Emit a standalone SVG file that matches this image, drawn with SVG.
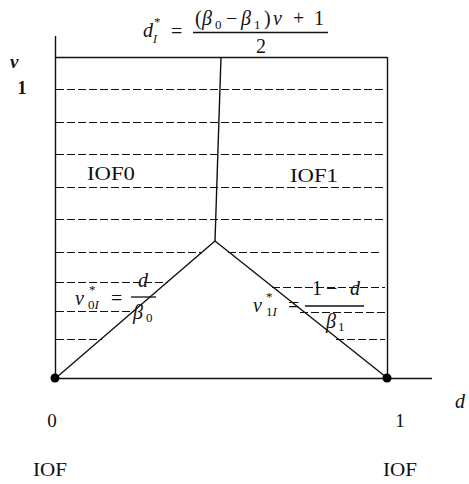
<svg xmlns="http://www.w3.org/2000/svg" width="469" height="484" viewBox="0 0 469 484">
<style>
.ln{stroke:#111;stroke-width:1.4;fill:none}
.ds{stroke:#111;stroke-width:1.2;stroke-dasharray:8 3;fill:none}
.t{font-family:"Liberation Serif","Times New Roman",serif;fill:#111}
.i{font-style:italic}
.m{font-size:20px}
.s{font-size:13px}
.lb{font-size:19px}
</style>
<rect width="469" height="484" fill="#ffffff"/>
<g id="grid">
<line class="ds" x1="56" y1="89.5" x2="385" y2="89.5"/>
<line class="ds" x1="56" y1="122.5" x2="385" y2="122.5"/>
<line class="ds" x1="56" y1="154.5" x2="385" y2="154.5"/>
<line class="ds" x1="56" y1="187.5" x2="385" y2="187.5"/>
<line class="ds" x1="56" y1="219.5" x2="385" y2="219.5"/>
<line class="ds" x1="56" y1="252.5" x2="202" y2="252.5"/>
<line class="ds" x1="228" y1="252.5" x2="382" y2="252.5"/>
<line class="ds" x1="56" y1="282.5" x2="168" y2="282.5"/>
<line class="ds" x1="272" y1="287.5" x2="385" y2="287.5"/>
<line class="ds" x1="56" y1="311.5" x2="134" y2="311.5"/>
<line class="ds" x1="300" y1="312.5" x2="385" y2="312.5"/>
<line class="ds" x1="56" y1="339.5" x2="102" y2="339.5"/>
<line class="ds" x1="336" y1="339.5" x2="385" y2="339.5"/>
</g>
<g id="axes">
<line class="ln" x1="55.5" y1="36" x2="55.5" y2="378"/>
<line class="ln" x1="55" y1="378.5" x2="432" y2="378.5"/>
<line class="ln" x1="55" y1="57.5" x2="387" y2="57.5"/>
<line class="ln" x1="387.5" y1="57" x2="387.5" y2="378"/>
</g>
<g id="connectors">
<line class="ln" x1="221" y1="57" x2="215" y2="241"/>
<line class="ln" x1="215" y1="241" x2="57" y2="377"/>
<line class="ln" x1="215" y1="241" x2="386" y2="377"/>
</g>
<g id="node-origin">
<circle cx="55" cy="378" r="4.5" fill="#000"/>
<text class="t lb" x="52" y="427" text-anchor="middle">0</text>
<text class="t lb" x="50" y="476" text-anchor="middle" textLength="34" lengthAdjust="spacingAndGlyphs">IOF</text>
</g>
<g id="node-one">
<circle cx="387" cy="378" r="4.5" fill="#000"/>
<text class="t lb" x="400" y="427" text-anchor="middle">1</text>
<text class="t lb" x="400" y="476" text-anchor="middle" textLength="34" lengthAdjust="spacingAndGlyphs">IOF</text>
</g>
<g id="labels">
<text class="t i" x="10" y="68" font-size="19" font-weight="bold">v</text>
<text class="t" x="22" y="94" font-size="18" font-weight="bold" text-anchor="middle">1</text>
<text class="t i" x="455" y="408" font-size="20">d</text>
<text class="t lb" x="87" y="180" textLength="48" lengthAdjust="spacingAndGlyphs">IOF0</text>
<text class="t lb" x="290" y="182" textLength="48" lengthAdjust="spacingAndGlyphs">IOF1</text>
</g>
<g id="formula-top">
<text class="t i m" x="143" y="37">d</text>
<text class="t s" x="154" y="26">*</text>
<text class="t i" x="153" y="43" font-size="12">I</text>
<text class="t m" x="171" y="38">=</text>
<text class="t m" x="195" y="25">(</text>
<text class="t i m" x="202" y="25">β</text>
<text class="t s" x="215" y="29">0</text>
<text class="t m" x="226" y="25">−</text>
<text class="t i m" x="241" y="25">β</text>
<text class="t s" x="254" y="29">1</text>
<text class="t m" x="264" y="25">)</text>
<text class="t i m" x="273" y="25">v</text>
<text class="t m" x="293" y="25">+</text>
<text class="t m" x="314" y="25">1</text>
<line x1="193" y1="32.5" x2="328" y2="32.5" stroke="#111" stroke-width="1.4"/>
<text class="t m" x="261" y="53" text-anchor="middle">2</text>
</g>
<g id="formula-left">
<text class="t i m" x="75" y="305">v</text>
<text class="t s" x="89" y="294">*</text>
<text class="t s" x="88" y="309">0<tspan class="i">I</tspan></text>
<text class="t m" x="111" y="305">=</text>
<text class="t i m" x="138" y="287">d</text>
<line x1="131" y1="297" x2="156" y2="297" stroke="#111" stroke-width="1.3"/>
<text class="t i m" x="133" y="319">β</text>
<text class="t s" x="146" y="322">0</text>
</g>
<g id="formula-right">
<text class="t i m" x="253" y="312">v</text>
<text class="t s" x="266" y="301">*</text>
<text class="t s" x="266" y="316">1<tspan class="i">I</tspan></text>
<text class="t m" x="288" y="312">=</text>
<text class="t m" x="312" y="295">1</text>
<text class="t m" x="326" y="295">−</text>
<text class="t i m" x="350" y="295">d</text>
<line x1="305" y1="306" x2="364" y2="306" stroke="#111" stroke-width="1.3"/>
<text class="t i m" x="326" y="328">β</text>
<text class="t s" x="338" y="331">1</text>
</g>
</svg>
